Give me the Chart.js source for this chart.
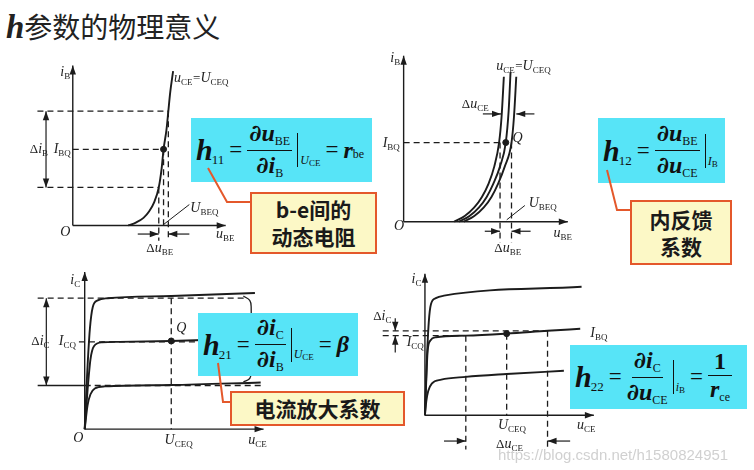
<!DOCTYPE html>
<html>
<head>
<meta charset="utf-8">
<script src="https://cdn.jsdelivr.net/npm/chart.js@4"></script>
<style>
  body { margin: 0; background: #fff; }
  #page { position: relative; width: 754px; height: 470px; overflow: hidden; background: #fff; }
  canvas { position: absolute; }
  .title { position: absolute; left: 6px; top: 6px; white-space: nowrap; color: #222; }
  .title .h { font: bold italic 33px "Liberation Serif", serif; }
  .title .cn { font: 28px "Noto Sans CJK SC", sans-serif; }
  .fbox { position: absolute; background: #57e4f7; display: flex; align-items: center; box-sizing: border-box;
          padding-left: 5px; font-family: "Liberation Serif", serif; color: #111; white-space: nowrap; }
  .hh { font: bold italic 30px "Liberation Serif", serif; }
  .hs { font-size: 13px; position: relative; top: 10px; margin-left: -1px; }
  .eq { font-size: 23px; margin: 0 5px; }
  .frac { display: inline-flex; flex-direction: column; align-items: center; }
  .num { border-bottom: 1.4px solid #111; padding: 0 2px; line-height: 26px; }
  .den { line-height: 26px; }
  .d { font: bold 23px "DejaVu Serif", serif; }
  .bv { font: bold italic 24px "Liberation Serif", serif; }
  .s { font-size: 12px; position: relative; top: 4px; }
  .bar { width: 0; height: 34px; border-left: 1.4px solid #111; margin: 0 2px 0 5px; }
  .cond { font-size: 12px; align-self: flex-end; margin-bottom: 14px; }
  .cond .s { font-size: 9px; top: 2px; }
  .call { position: absolute; box-sizing: border-box; background: #fcf8c6; border: 2px solid #e4582b;
          font: bold 21px "Noto Sans CJK SC", sans-serif; color: #1a1a1a; text-align: center;
          display: flex; flex-direction: column; justify-content: center; line-height: 27px; }
  .wm { position: absolute; left: 498px; top: 446px; font: 15px "Liberation Sans", sans-serif; color: rgba(170,170,170,.55); }
  svg { position: absolute; left: 0; top: 0; }
</style>
</head>
<body>
<div id="page">
  <div class="title"><span class="h">h</span><span class="cn">参数的物理意义</span></div>
</div>
<script>
// ---- 数据 ----
// 图1 输入特性 u_BE (V) - i_B (µA)
const in1Curve = [[0.29,0],[0.33,1.5],[0.37,4],[0.40,7.5],[0.425,12],[0.45,20],[0.465,30],[0.475,40],[0.49,50],[0.50,60],[0.51,70],[0.525,81]];
const in1Ib = [20, 40, 60];            // ΔiB 下、IBQ、上
const in1Ube = [0.45, 0.475, 0.5];     // 对应的 u_BE

// 图2 u_CE 变化时的输入特性
const in2CurveL = [[0.265,0],[0.32,3],[0.37,7.5],[0.41,13],[0.445,20],[0.475,29],[0.5,41.5],[0.513,55],[0.525,76]];
const in2CurveM = [[0.29,0],[0.345,3],[0.395,7.5],[0.435,13],[0.47,20],[0.505,29],[0.535,41.5],[0.55,58],[0.56,78.5]];
const in2CurveR = [[0.315,0],[0.37,3],[0.42,7.5],[0.46,13],[0.495,20],[0.53,29],[0.565,41.5],[0.578,55],[0.59,76]];
const in2Ibq = 41.5;
const in2Ube = [0.505, 0.535, 0.565];

// 图3 输出特性 u_CE (V) - i_C (mA)
const out3Top = [[0,0],[0.08,1.2],[0.18,2.3],[0.28,2.8],[0.45,2.95],[0.8,3.0],[3,3.05],[5.9,3.12]];
const out3Mid = [[0,0],[0.1,0.9],[0.2,1.6],[0.32,1.9],[0.6,1.99],[1.2,2.0],[3,2.02],[5.9,2.08]];
const out3Bot = [[0,0],[0.1,0.55],[0.2,0.8],[0.35,0.93],[0.7,0.98],[3,1.01],[6.1,1.07]];
const out3Ic = [1, 2, 3];
const out3Uceq = 3;

// 图4 输出特性 (r_ce)
const out4Top = [[0,0],[0.06,1.2],[0.14,2.3],[0.22,2.75],[0.4,2.9],[0.7,2.96],[5.75,3.18]];
const out4Mid = [[0,0],[0.05,0.9],[0.1,1.6],[0.2,1.85],[0.4,1.93],[1.5,1.97],[3,2.02],[4.5,2.09],[5.7,2.14]];
const out4Bot = [[0,0],[0.05,0.35],[0.12,0.6],[0.25,0.78],[0.6,0.88],[1.5,0.95],[3,1.02],[5.1,1.1]];
const out4Uce = [1.5, 3, 4.5];
const out4Ic = [1.97, 2.02, 2.09];

// ---- 工具 ----
const pts = a => a.map(p => ({ x: p[0], y: p[1] }));
const seg = (x1, y1, x2, y2) => [{ x: x1, y: y1 }, { x: x2, y: y2 }];
const INK = '#1c1c1c';

function line(data, extra) {
  return Object.assign({ data, borderColor: INK, borderWidth: 1.4, pointRadius: 0, showLine: true, fill: false }, extra || {});
}
const dash = (data, extra) => line(data, Object.assign({ borderDash: [6, 4], borderWidth: 1.3 }, extra || {}));
const curve = data => line(pts(data), { borderWidth: 1.9, cubicInterpolationMode: 'monotone' });
const dot = (x, y) => ({ data: [{ x, y }], pointRadius: 3, backgroundColor: INK, borderColor: INK, showLine: false });

// 箭头
const arrowPlugin = {
  id: 'arrows',
  afterDatasetsDraw(chart) {
    const ctx = chart.ctx;
    chart.data.datasets.forEach((ds, i) => {
      if (!ds.arrow) return;
      const p = chart.getDatasetMeta(i).data;
      const head = (a, b) => {
        const ang = Math.atan2(b.y - a.y, b.x - a.x), L = 9, W = 3.2;
        ctx.save(); ctx.fillStyle = INK; ctx.beginPath();
        ctx.moveTo(b.x, b.y);
        ctx.lineTo(b.x - L * Math.cos(ang) + W * Math.sin(ang), b.y - L * Math.sin(ang) - W * Math.cos(ang));
        ctx.lineTo(b.x - L * Math.cos(ang) - W * Math.sin(ang), b.y - L * Math.sin(ang) + W * Math.cos(ang));
        ctx.closePath(); ctx.fill(); ctx.restore();
      };
      if (ds.arrow === 'end' || ds.arrow === 'both') head(p[p.length - 2], p[p.length - 1]);
      if (ds.arrow === 'start' || ds.arrow === 'both') head(p[1], p[0]);
    });
  }
};

// 文字：'*' 斜体, '_' 下标
const textPlugin = {
  id: 'texts',
  afterDatasetsDraw(chart, args, opts) {
    const ctx = chart.ctx, xs = chart.scales.x, ys = chart.scales.y;
    ctx.save(); ctx.fillStyle = '#222'; ctx.textBaseline = 'alphabetic';
    (opts.items || []).forEach(it => {
      let px = xs.getPixelForValue(it.x);
      const py = ys.getPixelForValue(it.y);
      it.t.forEach(s => {
        let dy = 0;
        if (s[0] === '_') { ctx.font = '9px "Liberation Serif"'; s = s.slice(1); dy = 3; }
        else if (s[0] === '*') { ctx.font = 'italic 14px "Liberation Serif"'; s = s.slice(1); }
        else ctx.font = '13px "Liberation Serif"';
        ctx.fillText(s, px, py + dy);
        px += ctx.measureText(s).width + (dy ? 0.5 : 0);
      });
    });
    ctx.restore();
  }
};

function mount(left, top, w, h, xr, yr, datasets, items) {
  const c = document.createElement('canvas');
  c.width = w; c.height = h;
  c.style.left = left + 'px'; c.style.top = top + 'px';
  document.getElementById('page').appendChild(c);
  return new Chart(c, {
    type: 'scatter',
    data: { datasets },
    options: {
      responsive: false, animation: false, devicePixelRatio: 1,
      layout: { padding: 0 },
      scales: {
        x: { type: 'linear', min: xr[0], max: xr[1], display: false },
        y: { type: 'linear', min: yr[0], max: yr[1], display: false }
      },
      plugins: { legend: { display: false }, tooltip: { enabled: false }, texts: { items } }
    },
    plugins: [arrowPlugin, textPlugin]
  });
}

// ---- 图1 ----
mount(20, 50, 225, 210, [-0.25, 0.875], [-15.5, 89.5], [
  line(seg(0, 0, 0.8, 0), { arrow: 'end' }),
  line(seg(0, 0, 0, 84), { arrow: 'end' }),
  curve(in1Curve),
  dash(seg(-0.185, in1Ib[2], in1Ube[2], in1Ib[2])),
  dash(seg(0, in1Ib[1], in1Ube[1], in1Ib[1])),
  dash(seg(-0.185, in1Ib[0], in1Ube[0], in1Ib[0])),
  dash(seg(in1Ube[0], in1Ib[0], in1Ube[0], -8)),
  dash(seg(in1Ube[1], in1Ib[1], in1Ube[1], 0)),
  dash(seg(in1Ube[2], in1Ib[2], in1Ube[2], -8)),
  line(seg(-0.14, in1Ib[0], -0.14, in1Ib[2]), { arrow: 'both', borderWidth: 1.2 }),
  line(seg(0.34, -4.5, in1Ube[0], -4.5), { arrow: 'end', borderWidth: 1.2 }),
  line(seg(0.61, -4.5, in1Ube[2], -4.5), { arrow: 'end', borderWidth: 1.2 }),
  line(seg(in1Ube[1], 0.5, 0.61, 11), { borderWidth: 1 }),
  dot(in1Ube[1], in1Ib[1])
], [
  { x: -0.065, y: 78.5, t: ['*i', '_B'] },
  { x: 0.53, y: 75.5, t: ['*u', '_CE', '=', '*U', '_CEQ'] },
  { x: -0.225, y: 38, t: ['Δ', '*i', '_B'] },
  { x: -0.1, y: 38, t: ['*I', '_BQ'] },
  { x: -0.065, y: -5.5, t: ['*O'] },
  { x: 0.75, y: -6.5, t: ['*u', '_BE'] },
  { x: 0.615, y: 7, t: ['*U', '_BEQ'] },
  { x: 0.385, y: -14, t: ['Δ', '*u', '_BE'] }
]);

// ---- 图2 ----
mount(370, 45, 220, 217, [-0.15, 0.95], [-18.5, 90], [
  line(seg(0, 0, 0.86, 0), { arrow: 'end' }),
  line(seg(0, 0, 0, 87), { arrow: 'end' }),
  curve(in2CurveL), curve(in2CurveM), curve(in2CurveR),
  dash(seg(0, in2Ibq, in2Ube[1], in2Ibq)),
  dash(seg(in2Ube[0], in2Ibq, in2Ube[0], -11)),
  dash(seg(in2Ube[2], in2Ibq, in2Ube[2], -11)),
  line(seg(0.425, -5, in2Ube[0], -5), { arrow: 'end', borderWidth: 1.2 }),
  line(seg(0.665, -5, in2Ube[2], -5), { arrow: 'end', borderWidth: 1.2 }),
  line(seg(0.415, 56.5, 0.51, 56.5), { arrow: 'end', borderWidth: 1.2 }),
  line(seg(0.685, 56.5, 0.59, 56.5), { arrow: 'end', borderWidth: 1.2 }),
  line(seg(0.54, 1, 0.635, 8.5), { borderWidth: 1 }),
  dot(in2Ube[1], in2Ibq)
], [
  { x: -0.07, y: 83.5, t: ['*i', '_B'] },
  { x: 0.485, y: 79.5, t: ['*u', '_CE', '=', '*U', '_CEQ'] },
  { x: 0.305, y: 59.5, t: ['Δ', '*u', '_CE'] },
  { x: -0.11, y: 39, t: ['*I', '_BQ'] },
  { x: 0.57, y: 42, t: ['*Q'] },
  { x: -0.05, y: -4.5, t: ['*O'] },
  { x: 0.785, y: -8, t: ['*u', '_BE'] },
  { x: 0.655, y: 7.5, t: ['*U', '_BEQ'] },
  { x: 0.475, y: -16, t: ['Δ', '*u', '_BE'] }
]);

// ---- 图3 ----
mount(22, 260, 261, 196, [-2, 6.7], [-0.5, 3.76], [
  line(seg(0, 0, 6.2, 0), { arrow: 'end' }),
  line(seg(0, 0, 0, 3.6), { arrow: 'end' }),
  curve(out3Top), curve(out3Mid), curve(out3Bot),
  dash(seg(-1.63, out3Ic[2], 5.53, out3Ic[2])),
  dash(seg(-0.2, out3Ic[1], 4.2, out3Ic[1])),
  line(seg(-1.63, out3Ic[0], 0, out3Ic[0]), { borderWidth: 1.3 }),
  dash(seg(0, out3Ic[0], 6.1, out3Ic[0])),
  dash(seg(out3Uceq, out3Ic[2], out3Uceq, 0)),
  line(seg(-1.33, out3Ic[0], -1.33, out3Ic[2]), { arrow: 'both', borderWidth: 1.2 }),
  line(pts([[5.5,3.05],[5.72,2.95],[5.77,2.8],[5.77,1.3],[5.72,1.16],[5.5,1.08]]), { borderWidth: 1.3, tension: 0.4 }),
  dot(out3Uceq, 2.02)
], [
  { x: -0.5, y: 3.33, t: ['*i', '_C'] },
  { x: -1.85, y: 1.93, t: ['Δ', '*i', '_C'] },
  { x: -0.9, y: 1.93, t: ['*I', '_CQ'] },
  { x: 3.17, y: 2.22, t: ['*Q'] },
  { x: -0.4, y: -0.3, t: ['*O'] },
  { x: 2.77, y: -0.35, t: ['*U', '_CEQ'] },
  { x: 5.67, y: -0.35, t: ['*u', '_CE'] }
]);

// ---- 图4 ----
mount(366, 262, 262, 200, [-1.98, 7.27], [-1.035, 3.67], [
  line(seg(0, 0, 6.2, 0), { arrow: 'end' }),
  line(seg(0, 0, 0, 3.5), { arrow: 'end' }),
  curve(out4Top), curve(out4Mid), curve(out4Bot),
  dash(seg(-1.55, out4Ic[0], out4Uce[0], out4Ic[0])),
  dash(seg(-1.55, out4Ic[2], out4Uce[2], out4Ic[2])),
  dash(seg(out4Uce[0], out4Ic[0], out4Uce[0], -0.85)),
  dash(seg(out4Uce[1], out4Ic[1], out4Uce[1], 0)),
  dash(seg(out4Uce[2], out4Ic[2], out4Uce[2], -0.85)),
  line(seg(-1.09, 2.4, -1.09, out4Ic[2]), { arrow: 'end', borderWidth: 1.2 }),
  line(seg(-1.09, 1.55, -1.09, out4Ic[0]), { arrow: 'end', borderWidth: 1.2 }),
  line(seg(0.7, -0.64, out4Uce[0], -0.64), { arrow: 'end', borderWidth: 1.2 }),
  line(seg(5.33, -0.64, out4Uce[2], -0.64), { arrow: 'end', borderWidth: 1.2 }),
  dot(out4Uce[1], out4Ic[1])
], [
  { x: -0.49, y: 3.27, t: ['*i', '_C'] },
  { x: -1.9, y: 2.35, t: ['Δ', '*i', '_C'] },
  { x: -0.67, y: 1.72, t: ['*I', '_CQ'] },
  { x: 6.07, y: 1.93, t: ['*I', '_BQ'] },
  { x: 2.68, y: -0.35, t: ['*U', '_CEQ'] },
  { x: 5.58, y: -0.35, t: ['*u', '_CE'] },
  { x: 2.61, y: -0.8, t: ['Δ', '*u', '_CE'] }
]);

// ---- 公式框与说明框 ----
const page = document.getElementById('page');
page.insertAdjacentHTML('beforeend', `
<div class="fbox" style="left:191px;top:118px;width:181px;height:64px">
  <span class="hh">h</span><span class="hs">11</span><span class="eq">=</span>
  <span class="frac"><span class="num"><span class="d">∂</span><span class="bv">u</span><span class="s">BE</span></span><span class="den"><span class="d">∂</span><span class="bv">i</span><span class="s">B</span></span></span>
  <span class="bar"></span><span class="cond"><i>U</i><span class="s">CE</span></span><span class="eq">=</span>
  <span class="bv">r</span><span class="s">be</span>
</div>
<div class="fbox" style="left:598px;top:118px;width:127px;height:65px">
  <span class="hh">h</span><span class="hs">12</span><span class="eq">=</span>
  <span class="frac"><span class="num"><span class="d">∂</span><span class="bv">u</span><span class="s">BE</span></span><span class="den"><span class="d">∂</span><span class="bv">u</span><span class="s">CE</span></span></span>
  <span class="bar"></span><span class="cond"><i>I</i><span class="s">B</span></span>
</div>
<div class="fbox" style="left:198px;top:313px;width:160px;height:63px">
  <span class="hh">h</span><span class="hs">21</span><span class="eq">=</span>
  <span class="frac"><span class="num"><span class="d">∂</span><span class="bv">i</span><span class="s">C</span></span><span class="den"><span class="d">∂</span><span class="bv">i</span><span class="s">B</span></span></span>
  <span class="bar"></span><span class="cond"><i>U</i><span class="s">CE</span></span><span class="eq">=</span>
  <span class="bv">β</span>
</div>
<div class="fbox" style="left:570px;top:345px;width:177px;height:64px">
  <span class="hh">h</span><span class="hs">22</span><span class="eq">=</span>
  <span class="frac"><span class="num"><span class="d">∂</span><span class="bv">i</span><span class="s">C</span></span><span class="den"><span class="d">∂</span><span class="bv">u</span><span class="s">CE</span></span></span>
  <span class="bar"></span><span class="cond"><i>i</i><span class="s">B</span></span><span class="eq">=</span>
  <span class="frac"><span class="num" style="font:bold 24px 'Liberation Serif';padding:0 6px">1</span><span class="den"><span class="bv">r</span><span class="s">ce</span></span></span>
</div>
<div class="call" style="left:250px;top:192px;width:127px;height:62px"><div>b-e间的</div><div>动态电阻</div></div>
<div class="call" style="left:630px;top:200px;width:102px;height:65px"><div>内反馈</div><div>系数</div></div>
<div class="call" style="left:230px;top:391px;width:175px;height:35px"><div>电流放大系数</div></div>
<svg width="754" height="470">
  <polyline points="208,168 227,202 250,202" fill="none" stroke="#e4582b" stroke-width="2"/>
  <polyline points="607,170 617,210 630,210" fill="none" stroke="#e4582b" stroke-width="2"/>
  <polyline points="218,363 223,402 230,402" fill="none" stroke="#e4582b" stroke-width="2"/>
</svg>
<div class="wm">https://blog.csdn.net/h1580824951</div>
`);
</script>
</body>
</html>
